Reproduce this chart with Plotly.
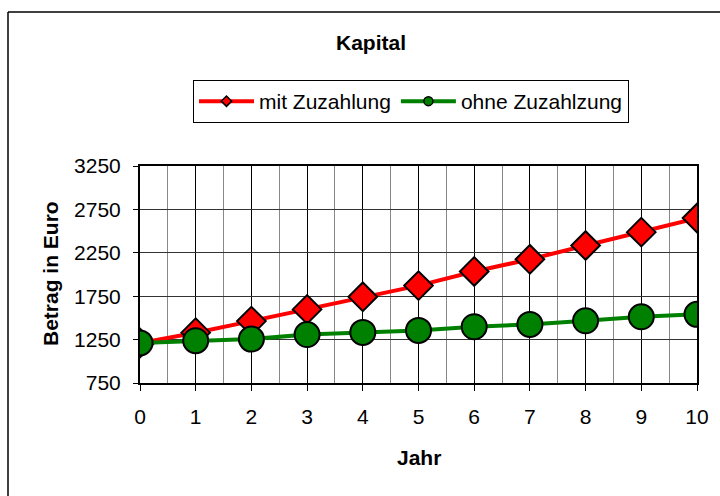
import plotly.graph_objects as go

jahre = [0, 1, 2, 3, 4, 5, 6, 7, 8, 9, 10]
mit_zuzahlung = [1210, 1330, 1463, 1598, 1743, 1872, 2035, 2175, 2334, 2488, 2650]
ohne_zuzahlung = [1212, 1237, 1256, 1308, 1333, 1356, 1398, 1425, 1467, 1513, 1541]
y_ticks = [750, 1250, 1750, 2250, 2750, 3250]

FONT = "Liberation Sans, Arial, sans-serif"
FS = 21
W, H = 720, 496
L, R, T, B = 140, 697, 166, 383  # plot area in pixels

def px_x(p):
    return (p - L) / (R - L)

def px_y(p):
    return (B - p) / (B - T)

fig = go.Figure()

fig.add_trace(go.Scatter(
    x=jahre, y=mit_zuzahlung, mode="lines+markers", showlegend=False,
    line=dict(color="#FF0000", width=4),
    marker=dict(symbol="diamond", size=22, color="#FF0000", line=dict(color="black", width=2)),
))
fig.add_trace(go.Scatter(
    x=jahre, y=ohne_zuzahlung, mode="lines+markers", showlegend=False,
    line=dict(color="#008000", width=4),
    marker=dict(symbol="circle", size=25, color="#008000", line=dict(color="black", width=2)),
))
# legend entries
fig.add_trace(go.Scatter(
    x=[None], y=[None], mode="lines+markers", name="mit Zuzahlung",
    line=dict(color="#FF0000", width=4),
    marker=dict(symbol="diamond", size=8, color="#FF0000", line=dict(color="black", width=1.5)),
))
fig.add_trace(go.Scatter(
    x=[None], y=[None], mode="lines+markers", name="ohne Zuzahlzung",
    line=dict(color="#008000", width=4),
    marker=dict(symbol="circle", size=9, color="#008000", line=dict(color="black", width=1.5)),
))

fig.update_layout(
    width=W, height=H,
    margin=dict(l=L, r=W - R, t=T, b=H - B),
    paper_bgcolor="white", plot_bgcolor="white",
    font=dict(family=FONT, size=FS, color="black"),
    title=dict(text="<b>Kapital</b>", x=371 / W, xref="container", xanchor="center",
               y=1 - 43 / H, yref="container", yanchor="middle",
               font=dict(family=FONT, size=FS, color="black")),
    legend=dict(orientation="h", x=px_x(193), y=px_y(80), xanchor="left", yanchor="top",
                bordercolor="black", borderwidth=1, bgcolor="white",
                font=dict(family=FONT, size=FS, color="black"),
                itemwidth=55, tracegroupgap=0),
    xaxis=dict(range=[0, 10], tickmode="linear", tick0=0, dtick=1,
               showgrid=True, gridcolor="#000000", gridwidth=1,
               minor=dict(dtick=0.5, showgrid=True, gridcolor="#888888", gridwidth=1),
               showline=True, linecolor="black", linewidth=2, mirror=True,
               ticks="outside", ticklen=6, tickcolor="black", tickwidth=1,
               zeroline=False, ticklabelstandoff=8,
               tickfont=dict(family=FONT, size=FS, color="black")),
    yaxis=dict(range=[750, 3250], tickvals=y_ticks, ticktext=[str(v) for v in y_ticks],
               showgrid=True, gridcolor="#333333", gridwidth=1,
               showline=True, linecolor="black", linewidth=2, mirror=True,
               ticks="outside", ticklen=5, tickcolor="black", tickwidth=1,
               zeroline=False, ticklabelstandoff=8,
               tickfont=dict(family=FONT, size=FS, color="black")),
    annotations=[
        dict(text="<b>Jahr</b>", x=px_x(419), y=px_y(457), xref="paper", yref="paper",
             xanchor="center", yanchor="middle", showarrow=False,
             font=dict(family=FONT, size=FS, color="black")),
        dict(text="<b>Betrag in Euro</b>", x=px_x(50), y=px_y(274), xref="paper", yref="paper",
             xanchor="center", yanchor="middle", showarrow=False, textangle=-90,
             font=dict(family=FONT, size=FS, color="black")),
    ],
    shapes=[
        dict(type="line", xref="paper", yref="paper", x0=px_x(8), x1=px_x(720),
             y0=px_y(12), y1=px_y(12), line=dict(color="black", width=1.5)),
        dict(type="line", xref="paper", yref="paper", x0=px_x(8), x1=px_x(8),
             y0=px_y(12), y1=px_y(496), line=dict(color="black", width=1.5)),
    ],
)

fig.write_html("out.html", config={"displayModeBar": False},
               post_script=("document.documentElement.style.overflow='hidden';"
                            "document.body.style.margin='0';document.body.style.overflow='hidden';"))
